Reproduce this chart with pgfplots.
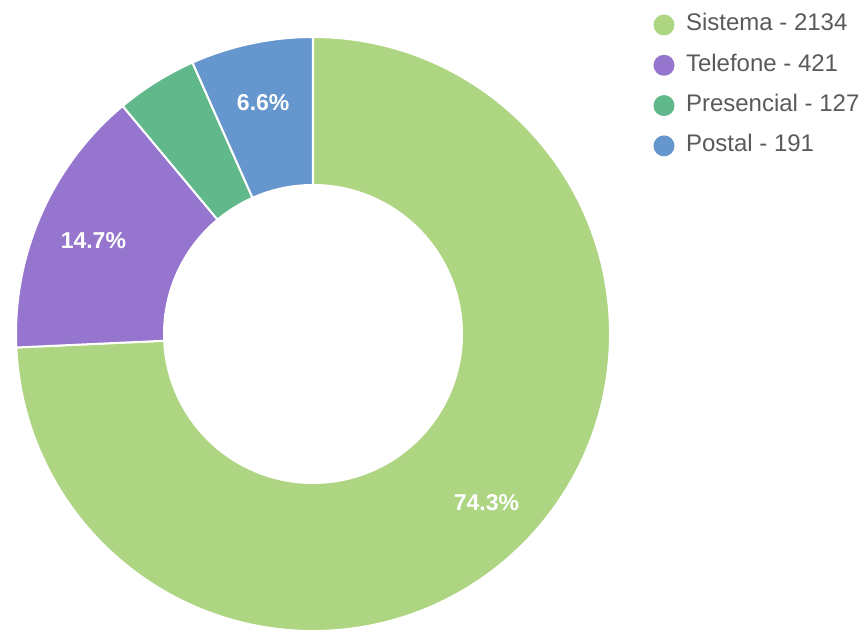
\documentclass[border=0pt]{standalone}
\usepackage{pgfplots}
\usepackage{pgfplotstable}
\usepackage{fontspec}
\setmainfont{Liberation Sans}
\pgfplotsset{compat=1.18}

\definecolor{cSis}{HTML}{AED581}
\definecolor{cTel}{HTML}{9575CD}
\definecolor{cPre}{HTML}{60B88B}
\definecolor{cPos}{HTML}{6596CE}
\definecolor{legendgray}{HTML}{5A5A5A}

\newcommand\lblfont{\fontsize{23}{28}\selectfont\bfseries}
\newcommand\legfont{\fontsize{24}{28}\selectfont}
\tikzset{slicelabel/.style={text=white, font=\lblfont, inner sep=0pt}}

% one row per slice, clockwise from 12 o'clock
\pgfplotstableread{
name value color
Sistema 2134 cSis
Telefone 421 cTel
Presencial 127 cPre
Postal 191 cPos
}\donut

\begin{document}
\begin{tikzpicture}
\pgfplotstablegetrowsof{\donut}
\pgfmathtruncatemacro\last{\pgfplotsretval-1}
\xdef\total{0}
\foreach \i in {0,...,\last}{
  \pgfplotstablegetelem{\i}{value}\of\donut
  \pgfmathtruncatemacro\tmp{\total+\pgfplotsretval}
  \xdef\total{\tmp}
}
\def\Ro{297}\def\Ri{149}\def\Rl{240}
\begin{axis}[
  scale only axis, width=866pt, height=632pt,
  xmin=-313, xmax=553, ymin=-298, ymax=334,
  hide axis, clip=false,
  legend image code/.code={\fill[#1, draw=none] (0pt,0pt) circle (10.5pt);},
  legend cell align=left,
  legend style={at={(axis cs:340.5,320)}, anchor=north west,
    draw=none, fill=none, inner sep=0pt, outer sep=0pt,
    row sep=18.3pt, column sep=0pt, font=\legfont, text=legendgray,
    nodes={inner xsep=0pt, inner ysep=0pt, text height=17pt, text depth=5pt},
    /tikz/every odd column/.style={column sep=11.5pt}},
]
\coordinate (bl) at (rel axis cs:0,0);
\coordinate (tr) at (rel axis cs:1,1);
\xdef\start{90}
\foreach \i in {0,...,\last}{
  \pgfplotstablegetelem{\i}{value}\of\donut \let\v\pgfplotsretval
  \pgfplotstablegetelem{\i}{color}\of\donut \let\c\pgfplotsretval
  \pgfmathsetmacro\stop{\start-360*(\v/\total)}
  \pgfmathsetmacro\mid{(\start+\stop)/2}
  \pgfmathsetmacro\xa{\Ro*cos(\start)}
  \pgfmathsetmacro\ya{\Ro*sin(\start)}
  \pgfmathsetmacro\xb{\Ri*cos(\stop)}
  \pgfmathsetmacro\yb{\Ri*sin(\stop)}
  \pgfmathsetmacro\xl{\Rl*cos(\mid)}
  \pgfmathsetmacro\yl{\Rl*sin(\mid)-3}
  \pgfmathtruncatemacro\pt{round(1000*(\v/\total))}
  \pgfmathtruncatemacro\ip{\pt/10}
  \pgfmathtruncatemacro\tp{\pt-10*\ip}
  \edef\temp{\noexpand\fill[\c, draw=white, line width=2pt]
    (axis cs:\xa,\ya) arc[start angle=\start, end angle=\stop, radius=\Ro pt]
    -- (axis cs:\xb,\yb) arc[start angle=\stop, end angle=\start, radius=\Ri pt]
    -- cycle;}
  \temp
  \ifnum\pt>49
    \edef\temp{\noexpand\node[slicelabel] at (axis cs:\xl,\yl) {\ip.\tp\noexpand\%};}
    \temp
  \fi
  \xdef\start{\stop}
}
\addlegendimage{fill=cSis}\addlegendentry{Sistema - 2134}
\addlegendimage{fill=cTel}\addlegendentry{Telefone - 421}
\addlegendimage{fill=cPre}\addlegendentry{Presencial - 127}
\addlegendimage{fill=cPos}\addlegendentry{Postal - 191}
\end{axis}
\pgfresetboundingbox
\path[use as bounding box] (bl) rectangle (tr);
\end{tikzpicture}
\end{document}
